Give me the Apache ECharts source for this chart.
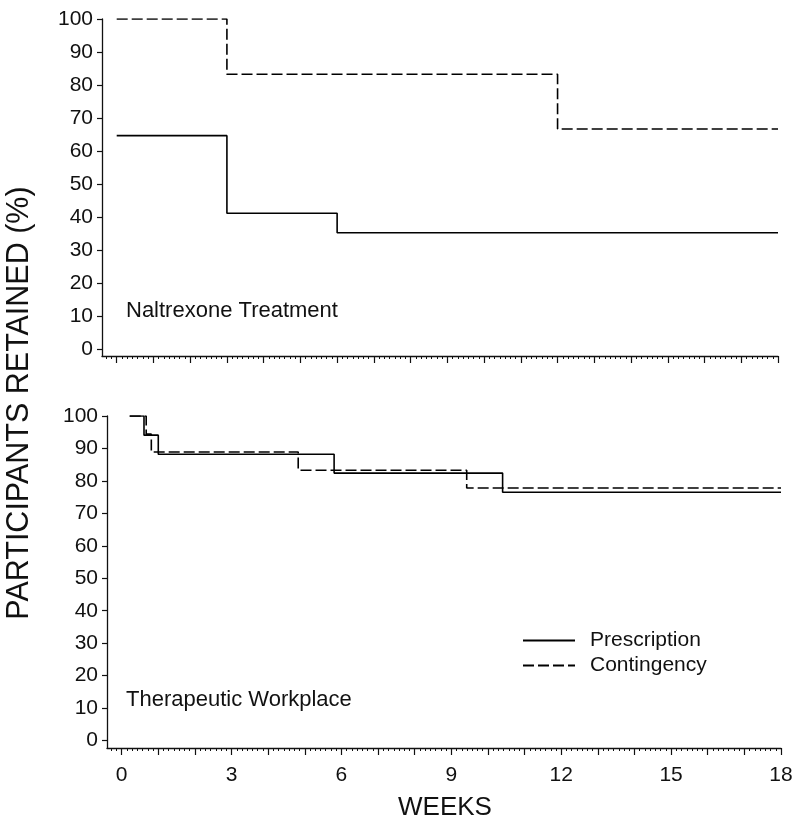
<!DOCTYPE html>
<html>
<head>
<meta charset="utf-8">
<script src="https://cdn.jsdelivr.net/npm/echarts@6/dist/echarts.min.js"></script>
<style>
html,body{margin:0;padding:0;background:#fff;}
#chart{width:800px;height:829px;}
</style>
</head>
<body>
<div id="chart"></div>
<script>
// ---- data ----
const seriesNames = ['Prescription', 'Contingency'];
const panelTitles = ['Naltrexone Treatment', 'Therapeutic Workplace'];

// Naltrexone Treatment panel
const nalPrescWeeks = [0, 3, 6, 18];
const nalPrescPct   = [64.7, 41.2, 35.3, 35.3];
const nalContWeeks  = [0, 3, 12, 18];
const nalContPct    = [100, 83.3, 66.7, 66.7];

// Therapeutic Workplace panel
const twPrescWeeks = [0.22, 0.61, 1.0, 5.8, 10.4, 18];
const twPrescPct   = [100, 94.1, 88.2, 82.4, 76.5, 76.5];
const twContWeeks  = [0.22, 0.67, 0.81, 4.82, 9.42, 18];
const twContPct    = [100, 94.4, 88.9, 83.3, 77.8, 77.8];

// axes
const weekTicks  = [0,1,2,3,4,5,6,7,8,9,10,11,12,13,14,15,16,17,18];
const weekLabels = [0, 3, 6, 9, 12, 15, 18];
const pctTicks   = [0, 10, 20, 30, 40, 50, 60, 70, 80, 90, 100];
const daysPerWeek = 7;

const dayTicks = [];
for (let d = -2; d <= 18 * daysPerWeek; d++) {
  if (d % daysPerWeek !== 0) dayTicks.push(d / daysPerWeek);
}

const FONT = "'Liberation Sans', Arial, sans-serif";
const INK = '#111';

function pairs(xs, ys) { return xs.map((x, i) => [x, ys[i]]); }

const grids = [
  { left: 102, top: 19, width: 676, height: 337 },
  { left: 107, top: 416, width: 674, height: 332 }
];
const yMins = [-2, -2.3];

const xAxes = [], yAxes = [];
grids.forEach((g, i) => {
  xAxes.push({
    type: 'value', gridIndex: i, min: -0.4, max: 18,
    splitLine: { show: false },
    axisLine: { onZero: false, lineStyle: { color: INK, width: 1.3 } },
    axisTick: { customValues: weekTicks, length: 7, lineStyle: { color: INK, width: 1.2 } },
    axisLabel: { show: i === 1, customValues: weekLabels, margin: 17,
      color: INK, fontSize: 21, fontFamily: FONT }
  });
  xAxes.push({
    type: 'value', gridIndex: i, min: -0.4, max: 18, position: 'bottom',
    splitLine: { show: false },
    axisLine: { show: false, onZero: false },
    axisTick: { customValues: dayTicks, length: 3, lineStyle: { color: INK, width: 1 } },
    axisLabel: { show: false }
  });
  yAxes.push({
    type: 'value', gridIndex: i, min: yMins[i], max: 100,
    splitLine: { show: false },
    axisLine: { onZero: false, lineStyle: { color: INK, width: 1.3 } },
    axisTick: { customValues: pctTicks, length: 5, lineStyle: { color: INK, width: 1.2 } },
    axisLabel: { customValues: pctTicks, margin: 9, color: INK, fontSize: 21, fontFamily: FONT }
  });
});

function stepSeries(name, xIdx, yIdx, data, dashed) {
  return {
    name: name, type: 'line', step: 'end', xAxisIndex: xIdx, yAxisIndex: yIdx,
    data: data, symbol: 'none', showSymbol: false, animation: false,
    lineStyle: { color: '#000', width: 1.6, type: dashed ? [11, 4] : 'solid' },
    itemStyle: { color: '#000' }
  };
}

const option = {
  backgroundColor: '#fff',
  animation: false,
  grid: grids,
  xAxis: xAxes,
  yAxis: yAxes,
  legend: {
    data: seriesNames, orient: 'vertical', left: 517, top: 625,
    itemWidth: 52, itemHeight: 14, itemGap: 4,
    itemStyle: { opacity: 0 },
    textStyle: { color: INK, fontSize: 21, fontFamily: FONT, padding: [0, 0, 0, 10] },
    selectedMode: false
  },
  series: [
    stepSeries(seriesNames[0], 0, 0, pairs(nalPrescWeeks, nalPrescPct), false),
    stepSeries(seriesNames[1], 0, 0, pairs(nalContWeeks, nalContPct), true),
    stepSeries(seriesNames[0], 2, 1, pairs(twPrescWeeks, twPrescPct), false),
    stepSeries(seriesNames[1], 2, 1, pairs(twContWeeks, twContPct), true)
  ],
  graphic: [
    { type: 'text', x: 126, y: 311, style: { text: panelTitles[0], fill: INK, font: '22px ' + FONT, textVerticalAlign: 'middle' } },
    { type: 'text', x: 126, y: 700, style: { text: panelTitles[1], fill: INK, font: '22px ' + FONT, textVerticalAlign: 'middle' } },
    { type: 'text', x: 20, y: 403, rotation: Math.PI / 2,
      style: { text: 'PARTICIPANTS RETAINED (%)', fill: INK, font: '30.5px ' + FONT,
        textAlign: 'center', textVerticalAlign: 'middle' } },
    { type: 'text', x: 445, y: 808,
      style: { text: 'WEEKS', fill: INK, font: '26px ' + FONT,
        textAlign: 'center', textVerticalAlign: 'middle' } }
  ]
};

const chart = echarts.init(document.getElementById('chart'), null, { renderer: 'canvas' });
chart.setOption(option);
</script>
</body>
</html>
